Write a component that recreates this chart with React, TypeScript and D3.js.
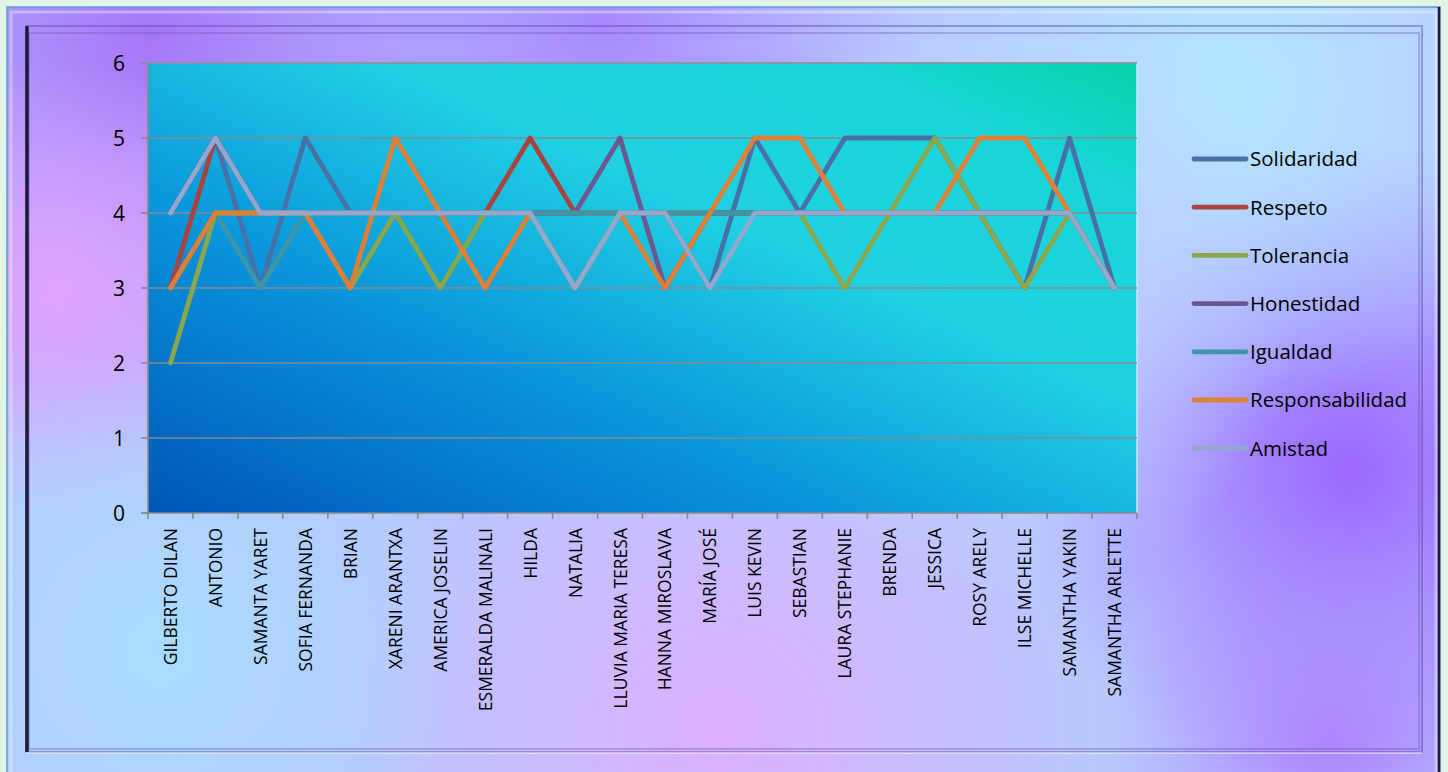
import React from "react";
import * as d3 from "d3";

const categories = [
  "GILBERTO DILAN", "ANTONIO", "SAMANTA YARET", "SOFIA FERNANDA", "BRIAN",
  "XARENI ARANTXA", "AMERICA JOSELIN", "ESMERALDA MALINALI", "HILDA", "NATALIA",
  "LLUVIA MARIA TERESA", "HANNA MIROSLAVA", "MARÍA JOSÉ", "LUIS KEVIN", "SEBASTIAN",
  "LAURA STEPHANIE", "BRENDA", "JESSICA", "ROSY ARELY", "ILSE MICHELLE",
  "SAMANTHA YAKIN", "SAMANTHA ARLETTE",
];

const solidaridad = [4, 5, 3, 5, 4, 4, 4, 4, 4, 4, 4, 4, 3, 5, 4, 5, 5, 5, 4, 3, 5, 3];
const respeto = [3, 5, 4, 4, 4, 4, 4, 4, 5, 4, 4, 4, 4, 4, 4, 4, 4, 4, 4, 4, 4, 3];
const tolerancia = [2, 4, 4, 4, 3, 4, 3, 4, 4, 4, 4, 4, 4, 4, 4, 3, 4, 5, 4, 3, 4, 3];
const honestidad = [4, 5, 4, 4, 4, 4, 4, 4, 4, 4, 5, 3, 4, 4, 4, 4, 4, 4, 4, 4, 4, 3];
const igualdad = [3, 4, 3, 4, 4, 4, 4, 4, 4, 4, 4, 4, 4, 4, 4, 4, 4, 4, 4, 4, 4, 3];
const responsabilidad = [3, 4, 4, 4, 3, 5, 4, 3, 4, 3, 4, 3, 4, 5, 5, 4, 4, 4, 5, 5, 4, 3];
const amistad = [4, 5, 4, 4, 4, 4, 4, 4, 4, 3, 4, 4, 3, 4, 4, 4, 4, 4, 4, 4, 4, 3];

const yTicks = [0, 1, 2, 3, 4, 5, 6];

const series = [
  { name: "Solidaridad", values: solidaridad, color: "#4670a6" },
  { name: "Respeto", values: respeto, color: "#a9433f" },
  { name: "Tolerancia", values: tolerancia, color: "#8ba64b" },
  { name: "Honestidad", values: honestidad, color: "#6e5690" },
  { name: "Igualdad", values: igualdad, color: "#3d95a8" },
  { name: "Responsabilidad", values: responsabilidad, color: "#de8036" },
  { name: "Amistad", values: amistad, color: "#92a9cf" },
];

const W = 1448;
const H = 772;
const plot = { left: 148, right: 1137, top: 63, bottom: 513 };
const FONT = "'Open Sans', 'Liberation Sans', sans-serif";

export default function App() {
  const x = d3.scaleBand<string>().domain(categories).range([plot.left, plot.right]);
  const y = d3.scaleLinear().domain([0, 6]).range([plot.bottom, plot.top]);
  const cx = (c: string) => (x(c) as number) + x.bandwidth() / 2;
  const line = d3
    .line<number>()
    .x((_, i) => cx(categories[i]))
    .y((v) => y(v));

  const blobs = [
    { id: "b1", cx: 150, cy: 40, r: 420, c: "#a676f8" },
    { id: "b8", cx: 600, cy: 20, r: 320, c: "#a888ff" },
    { id: "b2", cx: 1350, cy: 470, r: 330, c: "#9a66ff" },
    { id: "b9", cx: 1330, cy: 740, r: 220, c: "#ad86ff" },
    { id: "b3", cx: 60, cy: 290, r: 230, c: "#e0a2ff" },
    { id: "b4", cx: 720, cy: 730, r: 380, c: "#dcb0ff" },
    { id: "b5", cx: 1230, cy: 90, r: 330, c: "#b2e6ff" },
    { id: "b6", cx: 160, cy: 650, r: 300, c: "#a8dcff" },
    { id: "b7", cx: 1000, cy: 300, r: 300, c: "#c0d0ff" },
  ];

  return (
    <svg
      width={W}
      height={H}
      style={{ position: "absolute", left: 0, top: 0 }}
      fontFamily={FONT}
    >
      <defs>
        {blobs.map((b) => (
          <radialGradient key={b.id} id={b.id} cx={b.cx} cy={b.cy} r={b.r} gradientUnits="userSpaceOnUse">
            <stop offset="0" stopColor={b.c} stopOpacity={1} />
            <stop offset="1" stopColor={b.c} stopOpacity={0} />
          </radialGradient>
        ))}
        <linearGradient id="plotBg" x1="0" y1="1" x2="1" y2="0">
          <stop offset="0" stopColor="#0056b8" />
          <stop offset="0.35" stopColor="#0a96dc" />
          <stop offset="0.62" stopColor="#20d0e2" />
          <stop offset="0.85" stopColor="#18d6d8" />
          <stop offset="1" stopColor="#08d0a8" />
        </linearGradient>
      </defs>

      <rect x={0} y={0} width={W} height={H} fill="#e2f4e6" />
      <rect x={7} y={7} width={1433} height={H} fill="#b8c8ff" />
      {blobs.map((b) => (
        <rect key={b.id} x={7} y={7} width={1433} height={H} fill={`url(#${b.id})`} />
      ))}

      {/* frame bevel */}
      <rect x={7} y={7} width={1433} height={H} fill="none" stroke="#5a9cd6" strokeWidth={1.5} />
      <rect x={11} y={12} width={1425} height={H} fill="none" stroke="#ffffff" strokeOpacity={0.35} strokeWidth={3} />
      <rect x={26} y={26} width={1396} height={726} fill="none" stroke="#5a4a9a" strokeOpacity={0.45} strokeWidth={2} />
      <rect x={29} y={33} width={1390} height={716} fill="none" stroke="#5a4a9a" strokeOpacity={0.4} strokeWidth={1.5} />
      <line x1={27} y1={26} x2={27} y2={752} stroke="#1c1c3a" strokeWidth={3.5} />
      <line x1={1439} y1={7} x2={1439} y2={H} stroke="#1c1c3a" strokeWidth={2.5} />
      <line x1={26} y1={753} x2={1422} y2={753} stroke="#ffffff" strokeOpacity={0.45} strokeWidth={2} />

      {/* plot area */}
      <rect
        x={plot.left}
        y={plot.top}
        width={plot.right - plot.left}
        height={plot.bottom - plot.top}
        fill="url(#plotBg)"
      />
      <line x1={plot.right} y1={plot.top} x2={plot.right} y2={plot.bottom} stroke="#c8ecff" strokeWidth={1.5} />
      <line x1={plot.left} y1={plot.top} x2={plot.right} y2={plot.top} stroke="#b8c8d8" strokeWidth={1} />

      {yTicks.map((t) => (
        <g key={t}>
          {t > 0 && (
            <line x1={plot.left} x2={plot.right} y1={y(t)} y2={y(t)} stroke="#858a90" strokeWidth={1.6} />
          )}
          <line x1={plot.left - 7} x2={plot.left} y1={y(t)} y2={y(t)} stroke="#8a8a8a" strokeWidth={1.6} />
          <text x={125} y={y(t)} dy="0.36em" textAnchor="end" fontSize={21} fill="#000">
            {t}
          </text>
        </g>
      ))}

      {/* axes */}
      <line x1={plot.left} x2={plot.left} y1={plot.top} y2={plot.bottom} stroke="#8a8a8a" strokeWidth={1.6} />
      <line x1={plot.left - 7} x2={plot.right} y1={plot.bottom} y2={plot.bottom} stroke="#8a8a8a" strokeWidth={1.6} />
      {categories.map((c) => (
        <line
          key={"t" + c}
          x1={x(c) as number}
          x2={x(c) as number}
          y1={plot.bottom}
          y2={plot.bottom + 6}
          stroke="#8a8a8a"
          strokeWidth={1.6}
        />
      ))}
      <line x1={plot.right} x2={plot.right} y1={plot.bottom} y2={plot.bottom + 6} stroke="#8a8a8a" strokeWidth={1.6} />
      {categories.map((c) => (
        <text
          key={"l" + c}
          transform={`translate(${cx(c) + 6.5},${plot.bottom + 15}) rotate(-90)`}
          textAnchor="end"
          fontSize={17.5}
          fill="#000"
        >
          {c}
        </text>
      ))}

      {/* series */}
      {series.map((s) => (
        <path
          key={s.name}
          d={line(s.values) as string}
          fill="none"
          stroke={s.color}
          strokeWidth={4.8}
          strokeLinejoin="round"
          strokeLinecap="round"
        />
      ))}

      {/* legend */}
      {series.map((s, i) => {
        const ly = 159 + i * 48.2;
        return (
          <g key={"lg" + s.name}>
            <line x1={1194} x2={1246} y1={ly} y2={ly} stroke={s.color} strokeWidth={4.8} strokeLinecap="round" />
            <text x={1250} y={ly} dy="0.36em" fontSize={20.5} fill="#000">
              {s.name}
            </text>
          </g>
        );
      })}
    </svg>
  );
}
